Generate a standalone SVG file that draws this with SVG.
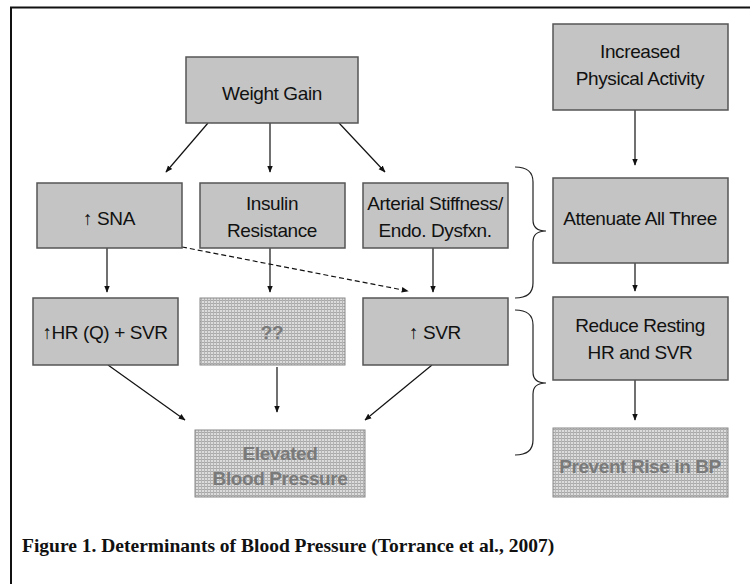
<svg xmlns="http://www.w3.org/2000/svg" width="750" height="584" viewBox="0 0 750 584">
<defs>
<marker id="ah" viewBox="0 0 10 10" refX="9" refY="5" markerWidth="7" markerHeight="7" orient="auto" markerUnits="userSpaceOnUse"><path d="M0,1 L10,5 L0,9 z" fill="#111"/></marker>
<pattern id="grid" width="3" height="3" patternUnits="userSpaceOnUse"><rect width="3" height="3" fill="#dcdcdc"/><rect width="3" height="1" fill="#a8a8a8"/><rect width="1" height="3" fill="#b4b4b4"/></pattern>
</defs>
<style>
.box{fill:#c4c4c4;stroke:#555;stroke-width:1.5}
.lbox{fill:url(#grid);stroke:#888;stroke-width:1}
.t{font-family:"Liberation Sans",Arial,sans-serif;font-size:19px;fill:#111;text-anchor:middle;letter-spacing:-0.4px}
.lt{font-family:"Liberation Sans",Arial,sans-serif;font-size:19px;fill:#7a7a7a;text-anchor:middle;letter-spacing:-0.4px;font-weight:bold}
.c{stroke:#111;stroke-width:1.2;fill:none}
.br{stroke:#222;stroke-width:1.2;fill:none}
</style>
<rect width="750" height="584" fill="#fff"/>
<path d="M11,584 V7.5 H750" stroke="#111" stroke-width="2" fill="none"/>

<g id="connectors">
<line class="c" x1="208" y1="123" x2="166" y2="172" marker-end="url(#ah)"/>
<line class="c" x1="270" y1="123" x2="270" y2="172" marker-end="url(#ah)"/>
<line class="c" x1="339" y1="123" x2="385" y2="172" marker-end="url(#ah)"/>
<line class="c" x1="635" y1="110" x2="635" y2="165" marker-end="url(#ah)"/>
<line class="c" x1="107" y1="248" x2="107" y2="292" marker-end="url(#ah)"/>
<line class="c" x1="270" y1="248" x2="270" y2="292" marker-end="url(#ah)"/>
<line class="c" x1="433" y1="248" x2="433" y2="292" marker-end="url(#ah)"/>
<line class="c" x1="182" y1="247" x2="408" y2="291" stroke-dasharray="5,3" marker-end="url(#ah)"/>
<line class="c" x1="635" y1="263" x2="635" y2="291" marker-end="url(#ah)"/>
<line class="c" x1="108" y1="365" x2="185" y2="420" marker-end="url(#ah)"/>
<line class="c" x1="277" y1="367" x2="277" y2="412" marker-end="url(#ah)"/>
<line class="c" x1="432" y1="365" x2="365" y2="420" marker-end="url(#ah)"/>
<line class="c" x1="635" y1="380" x2="635" y2="420" marker-end="url(#ah)"/>
</g>

<g id="braces">
<path class="br" d="M515,167 Q533,167 533,182 V220 Q533,231 546,231 Q533,231 533,242 V283 Q533,298 515,298"/>
<path class="br" d="M515,310 Q533,310 533,325 V372 Q533,383 546,383 Q533,383 533,394 V440 Q533,455 515,455"/>
</g>

<g id="n_weight"><rect class="box" x="186" y="57" width="172" height="66"/><text class="t" x="272" y="100">Weight Gain</text></g>
<g id="n_activity"><rect class="box" x="553" y="24" width="175" height="86"/><text class="t" x="640" y="58">Increased</text><text class="t" x="640" y="85">Physical Activity</text></g>
<g id="n_sna"><rect class="box" x="37" y="183" width="145" height="65"/><text class="t" x="109" y="225">↑ SNA</text></g>
<g id="n_insulin"><rect class="box" x="200" y="183" width="145" height="65"/><text class="t" x="272" y="210">Insulin</text><text class="t" x="272" y="237">Resistance</text></g>
<g id="n_arterial"><rect class="box" x="363" y="183" width="145" height="65"/><text class="t" x="435" y="210">Arterial Stiffness/</text><text class="t" x="435" y="237">Endo. Dysfxn.</text></g>
<g id="n_attenuate"><rect class="box" x="553" y="178" width="175" height="85"/><text class="t" x="640" y="225">Attenuate All Three</text></g>
<g id="n_hr"><rect class="box" x="33" y="298" width="145" height="67"/><text class="t" x="105" y="339">↑HR (Q) + SVR</text></g>
<g id="n_unknown"><rect class="lbox" x="200" y="298" width="145" height="67"/><text class="lt" x="272" y="339">??</text></g>
<g id="n_svr"><rect class="box" x="363" y="298" width="145" height="67"/><text class="t" x="435" y="339">↑ SVR</text></g>
<g id="n_reduce"><rect class="box" x="553" y="297" width="175" height="83"/><text class="t" x="640" y="332">Reduce Resting</text><text class="t" x="640" y="359">HR and SVR</text></g>
<g id="n_elevated"><rect class="lbox" x="195" y="430" width="170" height="67"/><text class="lt" x="280" y="460">Elevated</text><text class="lt" x="280" y="485">Blood Pressure</text></g>
<g id="n_prevent"><rect class="lbox" x="553" y="428" width="175" height="69"/><text class="lt" x="640" y="473">Prevent Rise in BP</text></g>

<text x="22" y="552" font-family="'Liberation Serif','Times New Roman',serif" font-size="19.5" font-weight="bold" fill="#111">Figure 1. Determinants of Blood Pressure (Torrance et al., 2007)</text>
</svg>
